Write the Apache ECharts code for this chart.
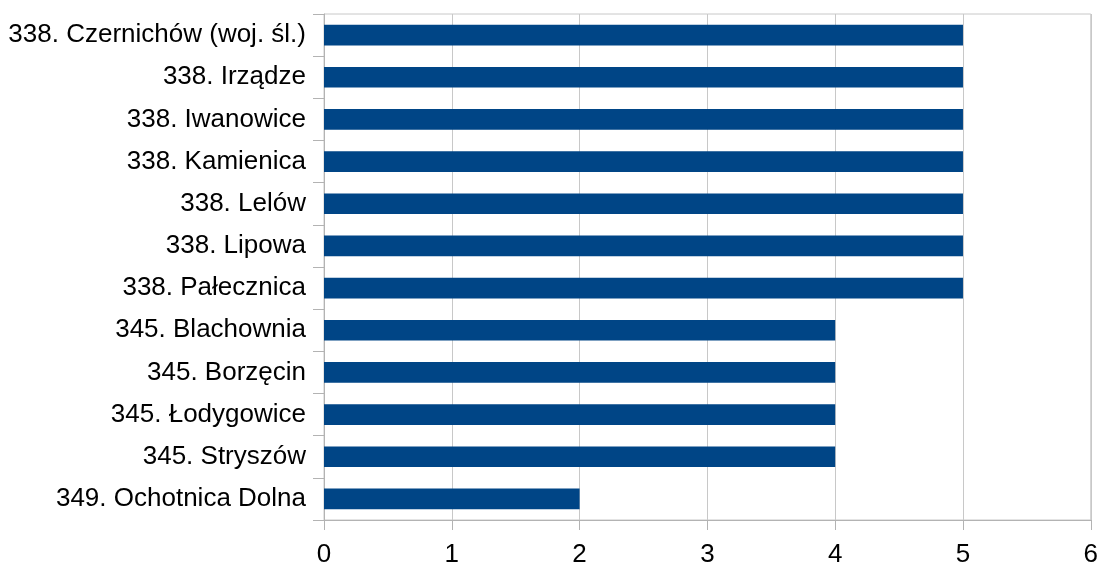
<!DOCTYPE html>
<html><head><meta charset="utf-8">
<script src="https://cdn.jsdelivr.net/npm/echarts@6/dist/echarts.min.js"></script>
<style>html,body{margin:0;padding:0;background:#fff}#c{width:1101px;height:568px}</style>
</head><body><div id="c"></div>
<script>
const categories = ["338. Czernichów (woj. śl.)","338. Irządze","338. Iwanowice","338. Kamienica","338. Lelów","338. Lipowa","338. Pałecznica","345. Blachownia","345. Borzęcin","345. Łodygowice","345. Stryszów","349. Ochotnica Dolna"];
const values = [5,5,5,5,5,5,5,4,4,4,4,2];
const xTicks = [0,1,2,3,4,5,6];
const chart = echarts.init(document.getElementById('c'));
chart.setOption({
  animation:false,
  grid:{left:324,right:6,top:14,bottom:46,containLabel:false,show:true,borderColor:'#c8c8c8',borderWidth:1},
  xAxis:{type:'value',min:xTicks[0],max:xTicks[xTicks.length-1],interval:1,
    axisLine:{show:true,lineStyle:{color:'#b3b3b3'}},
    axisTick:{show:true,length:10,lineStyle:{color:'#b3b3b3'}},
    splitLine:{show:true,lineStyle:{color:'#c8c8c8',width:1}},
    axisLabel:{color:'#000',fontSize:26,fontFamily:'Liberation Sans',margin:22}},
  yAxis:{type:'category',data:categories,inverse:true,
    axisLine:{show:true,lineStyle:{color:'#b3b3b3'}},
    axisTick:{show:true,length:11,lineStyle:{color:'#b3b3b3'}},
    axisLabel:{color:'#000',fontSize:26,fontFamily:'Liberation Sans',margin:18}},
  series:[{type:'bar',data:values,barWidth:'49%',itemStyle:{color:'#004586'}}]
});
</script></body></html>
